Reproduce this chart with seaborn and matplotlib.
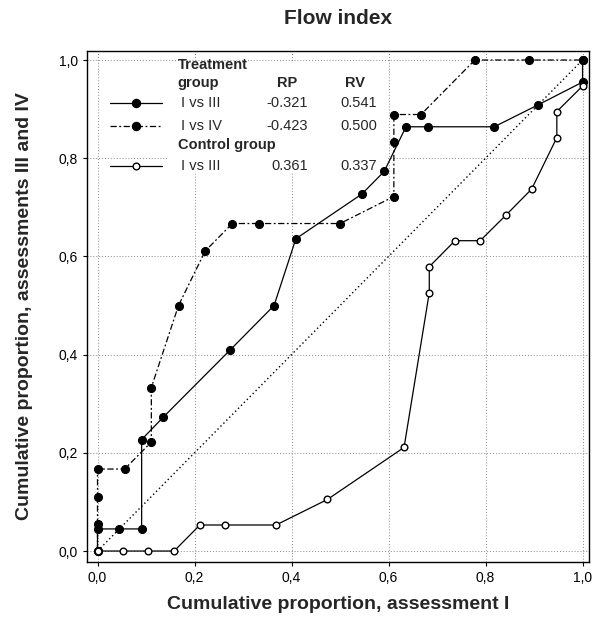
import matplotlib
matplotlib.use("Agg")
import matplotlib.pyplot as plt
import seaborn as sns
import pandas as pd
from matplotlib.ticker import FixedLocator, FuncFormatter
from matplotlib.patches import Rectangle

# ---- data ----
treat_iii_x = [0.0, 0.0, 0.045, 0.091, 0.091, 0.136, 0.273, 0.364, 0.409, 0.545, 0.591,
               0.636, 0.682, 0.818, 0.909, 1.0, 1.0]
treat_iii_y = [0.0, 0.045, 0.045, 0.045, 0.227, 0.273, 0.409, 0.5, 0.636, 0.727, 0.773,
               0.864, 0.864, 0.864, 0.909, 0.955, 1.0]

treat_iv_x = [0.0, 0.0, 0.0, 0.0, 0.056, 0.111, 0.111, 0.167, 0.222, 0.278, 0.333, 0.5,
              0.611, 0.611, 0.611, 0.667, 0.778, 0.889, 1.0]
treat_iv_y = [0.0, 0.056, 0.111, 0.167, 0.167, 0.222, 0.333, 0.5, 0.611, 0.667, 0.667, 0.667,
              0.722, 0.833, 0.889, 0.889, 1.0, 1.0, 1.0]

ctrl_x = [0.0, 0.053, 0.105, 0.158, 0.211, 0.263, 0.368, 0.474, 0.632, 0.684, 0.684,
          0.737, 0.789, 0.842, 0.895, 0.947, 0.947, 1.0]
ctrl_y = [0.0, 0.0, 0.0, 0.0, 0.053, 0.053, 0.053, 0.105, 0.211, 0.526, 0.579,
          0.632, 0.632, 0.684, 0.737, 0.842, 0.895, 0.947]

diag = [0.0, 1.0]

ticks = [0.0, 0.2, 0.4, 0.6, 0.8, 1.0]

legend_labels = ["I vs III", "I vs IV", "I vs III"]
legend_rp = ["-0.321", "-0.423", "0.361"]
legend_rv = ["0.541", "0.500", "0.337"]

title = "Flow index"
xlabel = "Cumulative proportion, assessment I"
ylabel = "Cumulative proportion, assessments III and IV"

# ---- style ----
sns.set_style("white")
plt.rcParams["font.family"] = ["Liberation Sans", "DejaVu Sans"]

fig = plt.figure(figsize=(5.92, 6.17), dpi=100)
ax = fig.add_axes([0.147, 0.0891, 0.848, 0.8282])

dash_dot = (0, (5, 2, 1.5, 2))
ms_f = 5.8
ms_o = 4.8

# diagonal reference
sns.lineplot(x=diag, y=diag, ax=ax, color="black", linestyle=(0, (1, 2)), linewidth=1.0,
             sort=False, estimator=None, legend=False, zorder=2)

# treatment I vs IV (dash-dot)
sns.lineplot(data=pd.DataFrame({"x": treat_iv_x, "y": treat_iv_y}), x="x", y="y", ax=ax,
             color="black", linestyle=dash_dot, linewidth=0.9, marker="o",
             markersize=ms_f, markerfacecolor="black", markeredgecolor="black",
             sort=False, estimator=None, legend=False, zorder=3)

# treatment I vs III (solid)
sns.lineplot(data=pd.DataFrame({"x": treat_iii_x, "y": treat_iii_y}), x="x", y="y", ax=ax,
             color="black", linestyle="-", linewidth=0.9, marker="o",
             markersize=ms_f, markerfacecolor="black", markeredgecolor="black",
             sort=False, estimator=None, legend=False, zorder=4)

# control I vs III (open circles)
sns.lineplot(data=pd.DataFrame({"x": ctrl_x, "y": ctrl_y}), x="x", y="y", ax=ax,
             color="black", linestyle="-", linewidth=0.9, marker="o",
             markersize=ms_o, markerfacecolor="white", markeredgecolor="black",
             markeredgewidth=1.0, sort=False, estimator=None, legend=False, zorder=5)

ax.set_xlim(-0.0216, 1.0134)
ax.set_ylim(-0.0224, 1.0183)

fmt = FuncFormatter(lambda v, p: f"{v:.1f}".replace(".", ","))
ax.xaxis.set_major_locator(FixedLocator(ticks))
ax.yaxis.set_major_locator(FixedLocator(ticks))
ax.xaxis.set_major_formatter(fmt)
ax.yaxis.set_major_formatter(fmt)
ax.tick_params(axis="both", labelsize=10, length=3, width=0.8, direction="out",
               colors="black", bottom=True, left=True)

ax.grid(True, linestyle=(0, (1, 2)), color="#888888", linewidth=0.7)
ax.set_axisbelow(True)
for s in ax.spines.values():
    s.set_color("black")
    s.set_linewidth(1.0)

ax.set_xlabel(xlabel, fontsize=14, fontweight="bold")
ax.set_ylabel(ylabel, fontsize=14, fontweight="bold")
ax.xaxis.set_label_coords(0.5, -0.066)
ax.yaxis.set_label_coords(-0.107, 0.5)
fig.text(0.571, 0.970, title, fontsize=15, fontweight="bold", ha="center", va="center")

# ---- table-like legend ----
ax.add_patch(Rectangle((0.143, 0.772), 0.452, 0.222, facecolor="white", edgecolor="none",
                       zorder=1.5))
fs = 10.5
rows_y = [0.912, 0.865, 0.784]
tx = 0.165
ax.text(tx, 0.990, "Treatment", fontsize=fs, fontweight="bold", va="center", ha="left", zorder=6)
ax.text(tx, 0.953, "group", fontsize=fs, fontweight="bold", va="center", ha="left", zorder=6)
ax.text(0.39, 0.953, "RP", fontsize=fs, fontweight="bold", va="center", ha="center", zorder=6)
ax.text(0.531, 0.953, "RV", fontsize=fs, fontweight="bold", va="center", ha="center", zorder=6)
ax.text(tx, 0.827, "Control group", fontsize=fs, fontweight="bold", va="center", ha="left",
        zorder=6)
for yy, lab, rp, rv in zip(rows_y, legend_labels, legend_rp, legend_rv):
    ax.text(0.172, yy, lab, fontsize=fs, va="center", ha="left", zorder=6)
    ax.text(0.434, yy, rp, fontsize=fs, va="center", ha="right", zorder=6)
    ax.text(0.500, yy, rv, fontsize=fs, va="center", ha="left", zorder=6)

handle_styles = [("-", "black", ms_f), (dash_dot, "black", ms_f), ("-", "white", ms_o)]
for yy, (ls, fc, ms) in zip(rows_y, handle_styles):
    ax.plot([0.026, 0.132], [yy, yy], color="black", linestyle=ls, linewidth=0.9, zorder=6)
    ax.plot([0.079], [yy], marker="o", markersize=ms, markerfacecolor=fc,
            markeredgecolor="black", markeredgewidth=1.0, linestyle="none", zorder=7)

fig.savefig("out.png", dpi=100)
